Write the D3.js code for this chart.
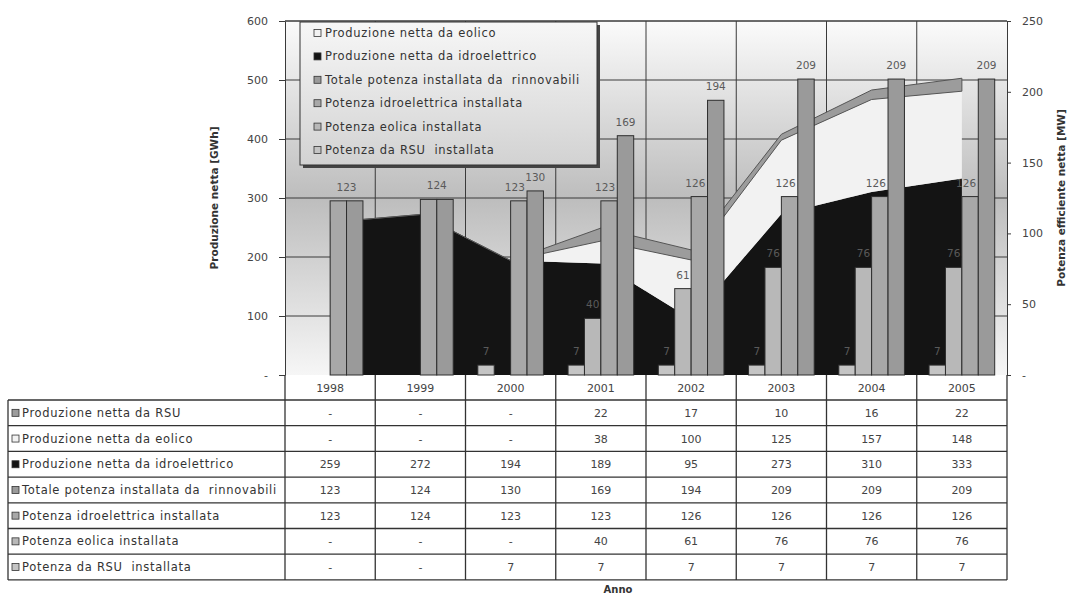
<!DOCTYPE html>
<html>
<head>
<meta charset="utf-8">
<script src="https://cdn.jsdelivr.net/npm/d3@7"></script>
<style>
  body { margin: 0; background: #fff; }
  svg { display: block; }
  text { font-family: "DejaVu Sans", sans-serif; white-space: pre; }
</style>
</head>
<body>
<svg id="chart" width="1070" height="596"></svg>
<script>
// data (null = "-")
var years = ["1998", "1999", "2000", "2001", "2002", "2003", "2004", "2005"];
var prodRSU = [null, null, null, 22, 17, 10, 16, 22];
var prodEolico = [null, null, null, 38, 100, 125, 157, 148];
var prodIdro = [259, 272, 194, 189, 95, 273, 310, 333];
var potTotale = [123, 124, 130, 169, 194, 209, 209, 209];
var potIdro = [123, 124, 123, 123, 126, 126, 126, 126];
var potEolica = [null, null, null, 40, 61, 76, 76, 76];
var potRSU = [null, null, 7, 7, 7, 7, 7, 7];
var leftTicks = [0, 100, 200, 300, 400, 500, 600];
var rightTicks = [0, 50, 100, 150, 200, 250];

var svg = d3.select("#chart");
var plot = { left: 285, right: 1007, top: 21, bottom: 375 };

// series descriptions
var series = {
  prodRSU: { name: "Produzione netta da RSU", values: prodRSU, fill: "#9c9c9c" },
  prodEolico: { name: "Produzione netta da eolico", values: prodEolico, fill: "#f2f2f2" },
  prodIdro: { name: "Produzione netta da idroelettrico", values: prodIdro, fill: "#141414" },
  potTotale: { name: "Totale potenza installata da  rinnovabili", values: potTotale, fill: "#9a9a9a" },
  potIdro: { name: "Potenza idroelettrica installata", values: potIdro, fill: "#a8a8a8" },
  potEolica: { name: "Potenza eolica installata", values: potEolica, fill: "#b8b8b8" },
  potRSU: { name: "Potenza da RSU  installata", values: potRSU, fill: "#c4c4c4" }
};
var tableOrder = ["prodRSU", "prodEolico", "prodIdro", "potTotale", "potIdro", "potEolica", "potRSU"];
var legendOrder = ["prodEolico", "prodIdro", "potTotale", "potIdro", "potEolica", "potRSU"];
var barKeys = ["potRSU", "potEolica", "potIdro", "potTotale"];
var stackKeys = ["prodIdro", "prodEolico", "prodRSU"];

var rows = years.map(function (y, i) {
  var r = { year: y };
  tableOrder.forEach(function (k) { r[k] = series[k].values[i]; });
  return r;
});

var x = d3.scaleBand().domain(years).range([plot.left, plot.right]);
var inner = d3.scaleBand().domain(barKeys).range([0, x.bandwidth()]).paddingOuter(0.75);
var yL = d3.scaleLinear().domain([0, 600]).range([plot.bottom, plot.top]);
var yR = d3.scaleLinear().domain([0, 250]).range([plot.bottom, plot.top]);
function xc(y) { return x(y) + x.bandwidth() / 2; }

// gradients
var defs = svg.append("defs");
var g1 = defs.append("linearGradient").attr("id", "plotBg").attr("x1", 0).attr("y1", 0).attr("x2", 0).attr("y2", 1);
g1.append("stop").attr("offset", "0%").attr("stop-color", "#fbfbfb");
g1.append("stop").attr("offset", "50%").attr("stop-color", "#bdbdbd");
g1.append("stop").attr("offset", "100%").attr("stop-color", "#f6f6f6");
var g2 = defs.append("linearGradient").attr("id", "legBg").attr("x1", 0).attr("y1", 0).attr("x2", 0).attr("y2", 1);
g2.append("stop").attr("offset", "0%").attr("stop-color", "#f7f7f7");
g2.append("stop").attr("offset", "100%").attr("stop-color", "#d2d2d2");

svg.append("rect")
  .attr("x", plot.left).attr("y", plot.top)
  .attr("width", plot.right - plot.left).attr("height", plot.bottom - plot.top)
  .attr("fill", "url(#plotBg)");

// gridlines
svg.append("g").selectAll("line").data(leftTicks.slice(1)).join("line")
  .attr("x1", plot.left).attr("x2", plot.right)
  .attr("y1", function (d) { return yL(d); }).attr("y2", function (d) { return yL(d); })
  .attr("stroke", "#3a3a3a").attr("stroke-width", 1);
svg.append("g").selectAll("line").data(years.slice(1)).join("line")
  .attr("x1", function (d) { return x(d); }).attr("x2", function (d) { return x(d); })
  .attr("y1", plot.top).attr("y2", plot.bottom)
  .attr("stroke", "#3a3a3a").attr("stroke-width", 1);

// stacked areas
var stacked = d3.stack().keys(stackKeys).value(function (d, k) { return d[k] || 0; })(rows);
var area = d3.area()
  .x(function (d) { return xc(d.data.year); })
  .y0(function (d) { return yL(d[0]); })
  .y1(function (d) { return yL(d[1]); });
svg.append("g").selectAll("path").data(stacked).join("path")
  .attr("d", area)
  .attr("fill", function (d) { return series[d.key].fill; })
  .attr("stroke", function (d) { return d.key === "prodRSU" ? "#555" : "none"; })
  .attr("stroke-width", 1);

// columns on the secondary axis
var bars = svg.append("g");
rows.forEach(function (r) {
  barKeys.forEach(function (k) {
    if (r[k] == null) return;
    bars.append("rect")
      .attr("x", x(r.year) + inner(k))
      .attr("y", yR(r[k]))
      .attr("width", inner.bandwidth())
      .attr("height", yR(0) - yR(r[k]))
      .attr("fill", series[k].fill)
      .attr("stroke", "#2e2e2e").attr("stroke-width", 1);
  });
});
var labels = svg.append("g").attr("font-size", 10.5).attr("fill", "#5a5a5a").attr("text-anchor", "middle");
rows.forEach(function (r) {
  barKeys.forEach(function (k) {
    if (r[k] == null) return;
    var cx = x(r.year) + inner(k) + inner.bandwidth() / 2;
    // idro and totale labels coincide when equal: Excel shows them as one
    if (k === "potIdro" && r.potIdro === r.potTotale) return;
    if (k === "potTotale" && r.potIdro === r.potTotale) cx -= inner.bandwidth() / 2;
    if (k === "potIdro") cx -= 4;
    labels.append("text")
      .attr("x", cx)
      .attr("y", yR(r[k]) - 10)
      .text(r[k]);
  });
});

// axes
var axL = svg.append("g").attr("transform", "translate(" + plot.left + ",0)")
  .call(d3.axisLeft(yL).tickValues(leftTicks).tickSizeInner(6).tickSizeOuter(0).tickPadding(11)
    .tickFormat(function (d) { return d === 0 ? "-" : d; }));
var axR = svg.append("g").attr("transform", "translate(" + plot.right + ",0)")
  .call(d3.axisRight(yR).tickValues(rightTicks).tickSizeInner(4).tickSizeOuter(0).tickPadding(11)
    .tickFormat(function (d) { return d === 0 ? "-" : d; }));
[axL, axR].forEach(function (a) {
  a.selectAll("path").attr("stroke", "#3a3a3a");
  a.selectAll("line").attr("stroke", "#3a3a3a");
  a.selectAll("text").attr("font-size", 11).attr("fill", "#444").attr("font-family", "DejaVu Sans, sans-serif");
});
svg.append("line").attr("x1", plot.left).attr("x2", plot.right).attr("y1", plot.top).attr("y2", plot.top)
  .attr("stroke", "#3a3a3a");

svg.append("text")
  .attr("transform", "translate(218," + ((plot.top + plot.bottom) / 2) + ") rotate(-90)")
  .attr("text-anchor", "middle").attr("font-size", 10.5).attr("font-weight", "bold").attr("fill", "#333")
  .text("Produzione netta [GWh]");
svg.append("text")
  .attr("transform", "translate(1065," + ((plot.top + plot.bottom) / 2) + ") rotate(-90)")
  .attr("text-anchor", "middle").attr("font-size", 10.5).attr("font-weight", "bold").attr("fill", "#333")
  .text("Potenza efficiente netta [MW]");

// legend
var leg = svg.append("g").attr("transform", "translate(300,22)");
leg.append("rect").attr("x", 3).attr("y", 3).attr("width", 297).attr("height", 143).attr("fill", "#444");
leg.append("rect").attr("width", 297).attr("height", 143).attr("fill", "url(#legBg)").attr("stroke", "#333");
legendOrder.forEach(function (k, i) {
  var ly = 11 + i * 23.4;
  leg.append("rect").attr("x", 14).attr("y", ly - 3.5).attr("width", 7).attr("height", 7)
    .attr("fill", series[k].fill).attr("stroke", "#333").attr("stroke-width", 0.8);
  leg.append("text").attr("x", 25).attr("y", ly + 4).attr("font-size", 11.5).attr("letter-spacing", 0.7)
    .attr("fill", "#333").text(series[k].name);
});

// data table
var tbl = svg.append("g");
var headTop = plot.bottom, rowTop = 400, rowH = 25.7, tblLeft = 8;
var lineCol = "#333";
tbl.selectAll("text.yr").data(years).join("text")
  .attr("x", function (d) { return xc(d); }).attr("y", (headTop + rowTop) / 2 + 4)
  .attr("text-anchor", "middle").attr("font-size", 11).attr("fill", "#444")
  .text(function (d) { return d; });
tableOrder.forEach(function (k, i) {
  var top = rowTop + i * rowH, mid = top + rowH / 2;
  tbl.append("rect").attr("x", 12).attr("y", mid - 3.5).attr("width", 7).attr("height", 7)
    .attr("fill", series[k].fill).attr("stroke", "#333").attr("stroke-width", 0.8);
  tbl.append("text").attr("x", 22).attr("y", mid + 4).attr("font-size", 11.5).attr("letter-spacing", 0.7)
    .attr("fill", "#333").text(series[k].name);
  series[k].values.forEach(function (v, j) {
    tbl.append("text").attr("x", xc(years[j])).attr("y", mid + 4)
      .attr("text-anchor", "middle").attr("font-size", 11).attr("fill", "#444")
      .text(v == null ? "-" : v);
  });
});
var tblBottom = rowTop + tableOrder.length * rowH;
// horizontal rules
d3.range(tableOrder.length + 1).forEach(function (i) {
  tbl.append("line").attr("x1", tblLeft).attr("x2", plot.right)
    .attr("y1", rowTop + i * rowH).attr("y2", rowTop + i * rowH)
    .attr("stroke", lineCol).attr("stroke-width", 1.3);
});
tbl.append("line").attr("x1", tblLeft).attr("x2", tblLeft).attr("y1", rowTop).attr("y2", tblBottom)
  .attr("stroke", lineCol).attr("stroke-width", 1.3);
years.concat(["end"]).forEach(function (y, j) {
  var xx = j < years.length ? x(y) : plot.right;
  tbl.append("line").attr("x1", xx).attr("x2", xx).attr("y1", headTop).attr("y2", tblBottom)
    .attr("stroke", lineCol).attr("stroke-width", 1.3);
});

svg.append("text").attr("x", 618).attr("y", 593).attr("text-anchor", "middle")
  .attr("font-size", 10).attr("font-weight", "bold").attr("fill", "#333").text("Anno");
</script>
</body>
</html>
